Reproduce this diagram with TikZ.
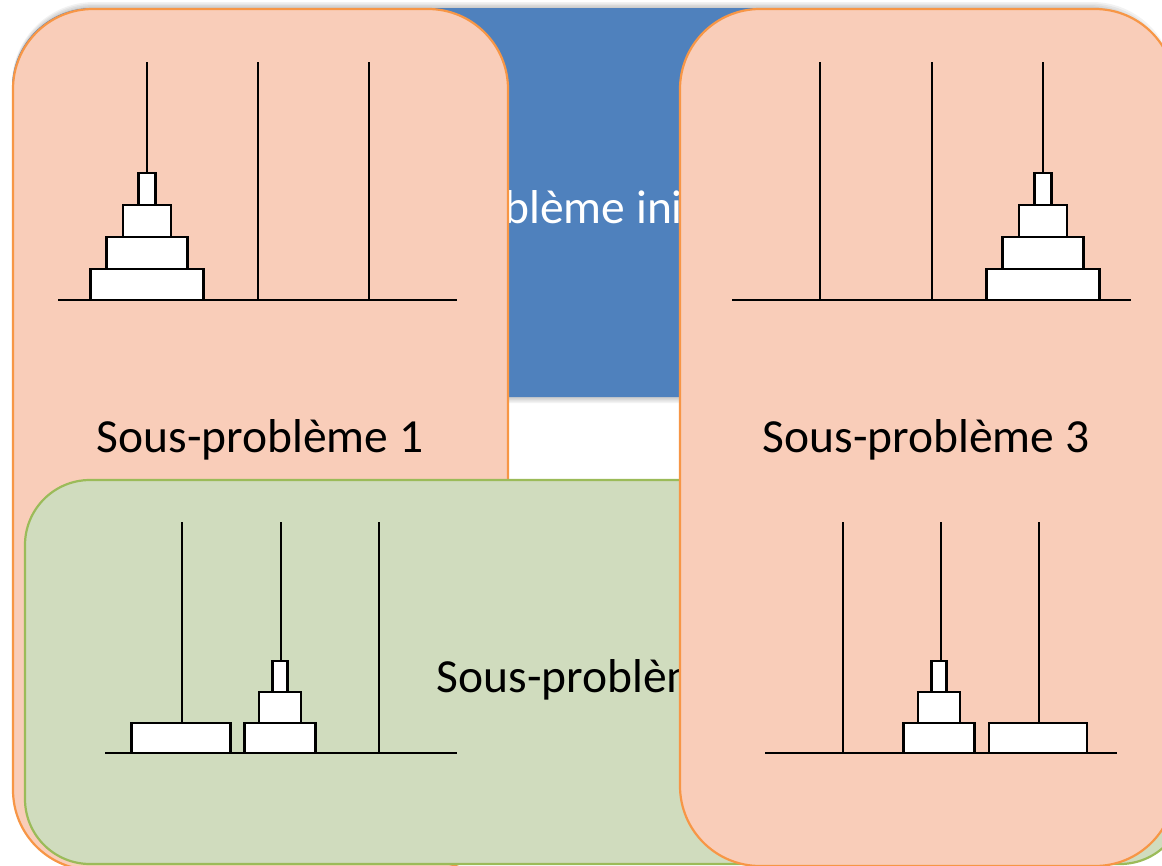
\documentclass[tikz,border=0pt]{standalone}
\usepackage{fontspec}
\setmainfont{Carlito}
\begin{document}
\begin{tikzpicture}[x=1pt,y=-1pt,
  bluepanel/.style={fill=blueF, draw=none, rounded corners=80pt},
  salmonpanel/.style={fill=salmonF, draw=orangeB, line width=2.2pt, rounded corners=80pt},
  greenpanel/.style={fill=greenF, draw=greenB, line width=2.2pt, rounded corners=65pt},
  peg/.style={draw=black, line width=2pt},
  disk/.style={draw=black, fill=white, line width=2.2pt},
  label/.style={font=\fontsize{47.5}{57}\selectfont, inner sep=0pt, anchor=center},
  glow/.style={fill=black, fill opacity=0.05, draw=none, rounded corners=82pt}]
\definecolor{blueF}{HTML}{4F81BD}
\definecolor{salmonF}{HTML}{F9CDB9}
\definecolor{orangeB}{HTML}{F79646}
\definecolor{greenF}{HTML}{D0DCBE}
\definecolor{greenB}{HTML}{9BBB59}
\useasboundingbox (0,0) rectangle (1162,865);
\clip (0,0) rectangle (1162,865);
\fill[white] (0,0) rectangle (1162,865);

% ---- back panel : problème initial
\foreach \g in {1.5,3,4.5,6}{
  \fill[glow] (12,8-\g) rectangle (1168+\g,397+\g);
}
\fill[bluepanel] (12,8) rectangle (1168,397);
\node[label, text=white] (pinit) at (591,207) {Problème initial};

% ---- left panel : sous-problème 1
\draw[salmonpanel] (13,9) rectangle (508,870);
\node[label] (sp1) at (260,440) {Sous-problème 1};
\coordinate (b1l) at (58,300); \coordinate (b1r) at (457,300);
\draw[peg] (b1l) -- (b1r);
\foreach \x in {147,258,369}{ \draw[peg] (\x,62) -- (\x,300); }
\draw[disk] (147-56.5,269) rectangle (147+56.5,300);
\draw[disk] (147-40.5,237) rectangle (147+40.5,269);
\draw[disk] (147-24,205) rectangle (147+24,237);
\draw[disk] (147-8.5,173) rectangle (147+8.5,205);

% ---- green panel : sous-problème 2
\draw[greenpanel] (25,480) rectangle (1185,864);
\node[label] (sp2) at (600,680) {Sous-problème 2};
\coordinate (b2l) at (105,753); \coordinate (b2r) at (457,753);
\draw[peg] (b2l) -- (b2r);
\foreach \x in {182,281,379}{ \draw[peg] (\x,522) -- (\x,753); }
\draw[disk] (181-49.5,723) rectangle (181+49.5,753);
\draw[disk] (280-35.5,723) rectangle (280+35.5,753);
\draw[disk] (280-21,692) rectangle (280+21,723);
\draw[disk] (280-7.5,661) rectangle (280+7.5,692);

% ---- right panel : sous-problème 3
\draw[salmonpanel] (680,9) rectangle (1175,866);
\node[label] (sp3) at (926,440) {Sous-problème 3};
\coordinate (b3l) at (732,300); \coordinate (b3r) at (1131,300);
\draw[peg] (b3l) -- (b3r);
\foreach \x in {820,932,1043}{ \draw[peg] (\x,62) -- (\x,300); }
\draw[disk] (1043-56.5,269) rectangle (1043+56.5,300);
\draw[disk] (1043-40.5,237) rectangle (1043+40.5,269);
\draw[disk] (1043-24,205) rectangle (1043+24,237);
\draw[disk] (1043-8.5,173) rectangle (1043+8.5,205);

\coordinate (b4l) at (765,753); \coordinate (b4r) at (1117,753);
\draw[peg] (b4l) -- (b4r);
\foreach \x in {843,941,1039}{ \draw[peg] (\x,522) -- (\x,753); }
\draw[disk] (1038-49,723) rectangle (1038+49,753);
\draw[disk] (939-35.5,723) rectangle (939+35.5,753);
\draw[disk] (939-21,692) rectangle (939+21,723);
\draw[disk] (939-7.5,661) rectangle (939+7.5,692);
\end{tikzpicture}
\end{document}
